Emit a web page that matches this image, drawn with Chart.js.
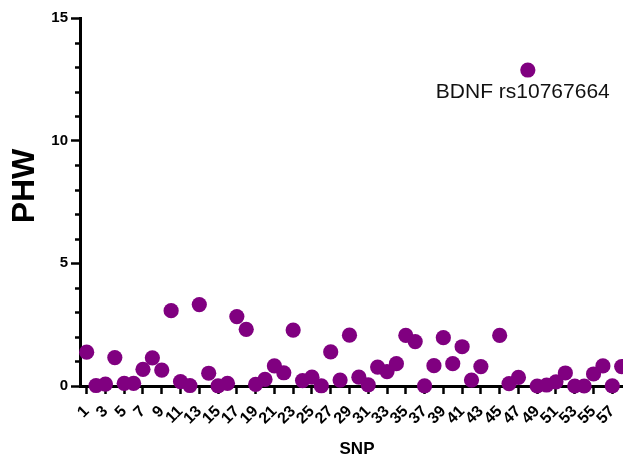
<!DOCTYPE html>
<html>
<head>
<meta charset="utf-8">
<script src="https://cdn.jsdelivr.net/npm/chart.js@4.4.1/dist/chart.umd.min.js"></script>
<style>
  html, body { margin: 0; padding: 0; background: #ffffff; }
  #wrap { width: 623px; height: 460px; }
</style>
</head>
<body>
<div id="wrap"><canvas id="phwChart" width="623" height="460"></canvas></div>
<script>
// SNP index along the x axis
const snpIds = [
  1, 2, 3, 4, 5, 6, 7, 8, 9, 10,
  11, 12, 13, 14, 15, 16, 17, 18, 19, 20,
  21, 22, 23, 24, 25, 26, 27, 28, 29, 30,
  31, 32, 33, 34, 35, 36, 37, 38, 39, 40,
  41, 42, 43, 44, 45, 46, 47, 48, 49, 50,
  51, 52, 53, 54, 55, 56, 57, 58
];

// PHW value per SNP (null = no value)
const phwValues = [
  1.38, 0.02, 0.08, 1.16, 0.11, 0.11, 0.68, 1.15, 0.65, 3.07,
  0.18, 0.02, 3.32, 0.52, 0.01, 0.11, 2.83, 2.31, 0.07, 0.27,
  0.82, 0.54, 2.28, 0.22, 0.36, 0.01, 1.39, 0.24, 2.07, 0.36,
  0.05, 0.77, 0.59, 0.91, 2.06, 1.81, 0.01, 0.83, 1.97, 0.91,
  1.60, 0.24, 0.79, null, 2.06, 0.10, 0.35, 12.88, 0.00, 0.04,
  0.17, 0.53, 0.00, 0.00, 0.49, 0.82, 0.01, 0.79
];

// Labelled x ticks
const xTickValues = [
  1, 3, 5, 7, 9, 11, 13, 15, 17, 19, 21, 23, 25, 27, 29,
  31, 33, 35, 37, 39, 41, 43, 45, 47, 49, 51, 53, 55, 57
];

// Y axis ticks
const yMajorTicks = [0, 5, 10, 15];
const yMinorTicks = [1, 2, 3, 4, 6, 7, 8, 9, 11, 12, 13, 14];

// Named SNPs
const highlightSnps = [48];
const highlightLabels = ['BDNF rs10767664'];

const FONT = "'Liberation Sans', Arial, Helvetica, sans-serif";
const INK = '#000000';
const DOT = '#800080';

const points = [];
snpIds.forEach((id, i) => {
  if (phwValues[i] !== null) points.push({ x: id, y: phwValues[i] });
});

// Short minor ticks on the y axis
const minorTicks = {
  id: 'minorTicks',
  afterDraw(chart) {
    const y = chart.scales.y;
    const ctx = chart.ctx;
    ctx.save();
    ctx.strokeStyle = INK;
    ctx.lineWidth = 2.5;
    yMinorTicks.forEach(v => {
      const py = Math.round(y.getPixelForValue(v)) + 0.5;
      ctx.beginPath();
      ctx.moveTo(y.right - 5, py);
      ctx.lineTo(y.right, py);
      ctx.stroke();
    });
    ctx.restore();
  }
};

// Axis titles
const axisTitles = {
  id: 'axisTitles',
  afterDraw(chart) {
    const ctx = chart.ctx;
    ctx.save();
    ctx.fillStyle = INK;
    ctx.textAlign = 'center';
    ctx.textBaseline = 'middle';
    ctx.font = 'bold 17px ' + FONT;
    ctx.fillText('SNP', 357, 449);
    ctx.translate(25, 186);
    ctx.rotate(-Math.PI / 2);
    ctx.font = 'bold 32px ' + FONT;
    ctx.fillText('PHW', 0, 0);
    ctx.restore();
  }
};

// Name next to highlighted SNPs
const snpNames = {
  id: 'snpNames',
  afterDatasetsDraw(chart) {
    const { ctx, scales } = chart;
    ctx.save();
    ctx.font = '21px ' + FONT;
    ctx.fillStyle = '#111111';
    ctx.textAlign = 'left';
    ctx.textBaseline = 'alphabetic';
    highlightSnps.forEach((id, k) => {
      const v = phwValues[snpIds.indexOf(id)];
      const px = scales.x.getPixelForValue(id);
      const py = scales.y.getPixelForValue(v);
      ctx.fillText(highlightLabels[k], px - 92, py + 28);
    });
    ctx.restore();
  }
};

new Chart(document.getElementById('phwChart'), {
  type: 'scatter',
  data: {
    datasets: [{
      data: points,
      backgroundColor: DOT,
      borderWidth: 0,
      pointRadius: 7.6,
      pointHoverRadius: 7.6,
      clip: false
    }]
  },
  options: {
    responsive: false,
    devicePixelRatio: 1,
    animation: false,
    events: [],
    layout: { autoPadding: false, padding: { top: 18, right: 0, left: 0, bottom: 0 } },
    plugins: {
      legend: { display: false },
      tooltip: { enabled: false }
    },
    scales: {
      x: {
        type: 'linear',
        min: 0.29,
        max: 58.14,
        afterBuildTicks: s => { s.ticks = xTickValues.map(v => ({ value: v })); },
        afterFit: s => { s.height = 74; s.paddingLeft = 0; s.paddingRight = 0; },
        border: { display: true, color: INK, width: 3 },
        grid: { drawOnChartArea: false, drawTicks: true, tickLength: 8, tickWidth: 2.5, tickColor: INK },
        ticks: {
          autoSkip: false,
          minRotation: 45,
          maxRotation: 45,
          padding: 8,
          color: INK,
          font: { family: FONT, size: 16, weight: 'bold' }
        }
      },
      y: {
        min: 0,
        max: 15,
        afterBuildTicks: s => { s.ticks = yMajorTicks.map(v => ({ value: v })); },
        afterFit: s => { s.width = 80; s.paddingTop = 0; s.paddingBottom = 0; },
        border: { display: true, color: INK, width: 3 },
        grid: { drawOnChartArea: false, drawTicks: true, tickLength: 9, tickWidth: 2.5, tickColor: INK },
        ticks: {
          padding: 3,
          color: INK,
          font: { family: FONT, size: 15, weight: 'bold' }
        }
      }
    }
  },
  plugins: [minorTicks, axisTitles, snpNames]
});
</script>
</body>
</html>
